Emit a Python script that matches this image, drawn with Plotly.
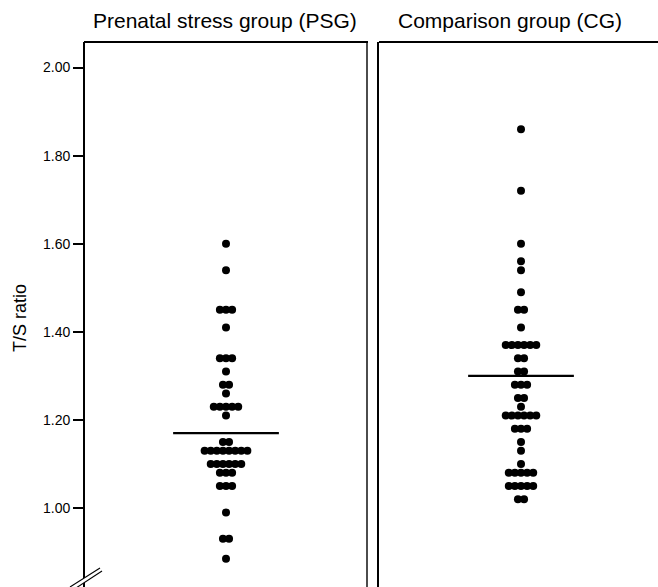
import plotly.graph_objects as go
from collections import Counter

# ---- data ----
groups = ["Prenatal stress group (PSG)", "Comparison group (CG)"]
psg_ts = [1.60, 1.54, 1.45, 1.45, 1.45, 1.41, 1.34, 1.34, 1.34, 1.31, 1.28, 1.28,
          1.26, 1.23, 1.23, 1.23, 1.23, 1.23, 1.21, 1.15, 1.15,
          1.13, 1.13, 1.13, 1.13, 1.13, 1.13, 1.13, 1.13,
          1.10, 1.10, 1.10, 1.10, 1.10, 1.10, 1.08, 1.08, 1.08,
          1.05, 1.05, 1.05, 0.99, 0.93, 0.93, 0.885]
cg_ts = [1.86, 1.72, 1.60, 1.56, 1.54, 1.49, 1.45, 1.45, 1.41,
         1.37, 1.37, 1.37, 1.37, 1.37, 1.37, 1.34, 1.34, 1.31, 1.31,
         1.28, 1.28, 1.28, 1.25, 1.25, 1.23, 1.21, 1.21, 1.21, 1.21, 1.21, 1.21,
         1.18, 1.18, 1.18, 1.15, 1.13, 1.10,
         1.08, 1.08, 1.08, 1.08, 1.08, 1.05, 1.05, 1.05, 1.05, 1.05, 1.02, 1.02]
group_line = [1.17, 1.30]
y_tick_vals = [1.00, 1.20, 1.40, 1.60, 1.80, 2.00]
y_tick_text = ["1.00", "1.20", "1.40", "1.60", "1.80", "2.00"]

W, H = 658, 587
T = 42
PH = H - T
FONT = "Liberation Sans, Arial, Helvetica, sans-serif"
DOT_STEP = 0.0433  # horizontal spacing of stacked dots (axis units)


def swarm(values):
    counts = Counter(values)
    xs, ys = [], []
    for v, n in counts.items():
        for i in range(n):
            xs.append((i - (n - 1) / 2) * DOT_STEP)
            ys.append(v)
    return xs, ys


fig = go.Figure()
for k, vals in enumerate([psg_ts, cg_ts]):
    xs, ys = swarm(vals)
    xa = "x" if k == 0 else "x2"
    ya = "y" if k == 0 else "y2"
    fig.add_trace(go.Scatter(x=xs, y=ys, mode="markers", xaxis=xa, yaxis=ya,
                             marker=dict(color="black", size=8, line=dict(width=0)),
                             showlegend=False, hoverinfo="y"))
    fig.add_trace(go.Scatter(x=[-0.375, 0.375], y=[group_line[k]] * 2, mode="lines",
                             xaxis=xa, yaxis=ya, line=dict(color="black", width=2.2),
                             showlegend=False, hoverinfo="y"))

yr = [1 - 79 / 440.5, 1 + 466 / 440.5]
d1 = [85 / W, 367 / W]
d2 = [379 / W, 1.0]
fig.update_layout(
    width=W, height=H, margin=dict(l=0, r=0, t=T, b=0),
    paper_bgcolor="white", plot_bgcolor="white",
    font=dict(family=FONT, color="black"),
    xaxis=dict(domain=d1, range=[-1, 1], visible=False, fixedrange=True),
    xaxis2=dict(domain=d2, range=[-(521 - 379) / 141, (658 - 521) / 141], visible=False),
    yaxis=dict(range=yr, anchor="x", tickvals=y_tick_vals, ticktext=y_tick_text,
               ticks="outside", ticklen=10, tickwidth=2, tickcolor="black",
               showline=True, linecolor="black", linewidth=1.8, mirror=False,
               showgrid=False, zeroline=False, tickfont=dict(size=14, family=FONT),
               automargin=False),
    yaxis2=dict(range=yr, anchor="x2", showticklabels=False, ticks="",
                showline=True, linecolor="black", linewidth=1.6,
                showgrid=False, zeroline=False, automargin=False),
)


def py(p):
    return (H - p) / PH


shapes = [
    dict(type="line", xref="paper", yref="paper", x0=84 / W, x1=368 / W, y0=1, y1=1,
         line=dict(color="black", width=1.8)),
    dict(type="line", xref="paper", yref="paper", x0=367 / W, x1=367 / W, y0=0, y1=1,
         line=dict(color="black", width=1.4)),
    dict(type="line", xref="paper", yref="paper", x0=379 / W, x1=1, y0=1, y1=1,
         line=dict(color="black", width=1.8)),
    # axis break mark
    dict(type="path", xref="paper", yref="paper", layer="above",
         path="M {} {} L {} {} L {} {} L {} {} Z".format(
             70 / W, py(587), 100 / W, py(568), 102 / W, py(571), 73 / W, py(590)),
         fillcolor="white", line=dict(width=0)),
    dict(type="line", xref="paper", yref="paper", layer="above",
         x0=70 / W, y0=py(587), x1=100 / W, y1=py(568), line=dict(color="black", width=1.1)),
    dict(type="line", xref="paper", yref="paper", layer="above",
         x0=73 / W, y0=py(590), x1=102 / W, y1=py(571), line=dict(color="black", width=1.1)),
]
fig.update_layout(shapes=shapes)

annotations = [
    dict(text=groups[0], x=225 / W, y=py(20), xref="paper", yref="paper",
         showarrow=False, xanchor="center", yanchor="middle", font=dict(size=21, family=FONT)),
    dict(text=groups[1], x=509.5 / W, y=py(20), xref="paper", yref="paper",
         showarrow=False, xanchor="center", yanchor="middle", font=dict(size=21, family=FONT)),
    dict(text="T/S ratio", x=20 / W, y=py(318), xref="paper", yref="paper", textangle=-90,
         showarrow=False, xanchor="center", yanchor="middle", font=dict(size=18, family=FONT)),
]
fig.update_layout(annotations=annotations)

fig.write_html("out.html", config={"displayModeBar": False},
               post_script="document.body.style.margin='0px';document.body.style.overflow='hidden';")
